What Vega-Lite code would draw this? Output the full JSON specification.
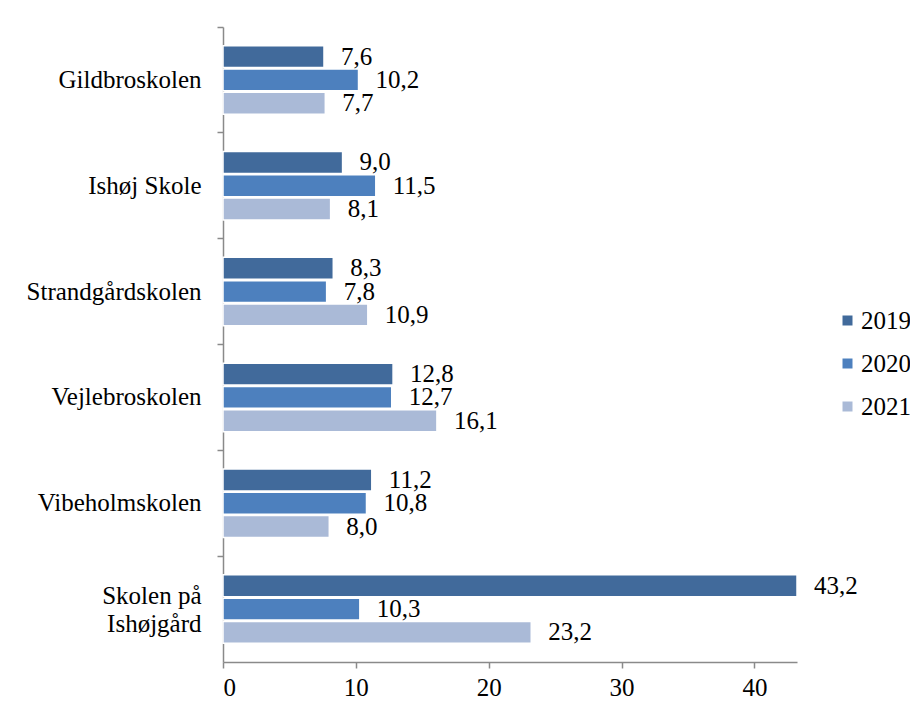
{
  "$schema": "https://vega.github.io/schema/vega-lite/v6.json",
  "width": 574,
  "height": 635,
  "autosize": {"type": "none"},
  "padding": {"left": 223, "top": 27, "right": 113, "bottom": 57},
  "background": "white",
  "config": {
    "view": {"stroke": null},
    "font": "Liberation Serif",
    "locale": {
      "number": {"decimal": ",", "thousands": ".", "grouping": [3], "currency": ["", " kr."]}
    }
  },
  "data": {
    "values": [
      {"skole": "Gildbroskolen", "year": "2019", "value": 7.6},
      {"skole": "Gildbroskolen", "year": "2020", "value": 10.2},
      {"skole": "Gildbroskolen", "year": "2021", "value": 7.7},
      {"skole": "Ishøj Skole", "year": "2019", "value": 9.0},
      {"skole": "Ishøj Skole", "year": "2020", "value": 11.5},
      {"skole": "Ishøj Skole", "year": "2021", "value": 8.1},
      {"skole": "Strandgårdskolen", "year": "2019", "value": 8.3},
      {"skole": "Strandgårdskolen", "year": "2020", "value": 7.8},
      {"skole": "Strandgårdskolen", "year": "2021", "value": 10.9},
      {"skole": "Vejlebroskolen", "year": "2019", "value": 12.8},
      {"skole": "Vejlebroskolen", "year": "2020", "value": 12.7},
      {"skole": "Vejlebroskolen", "year": "2021", "value": 16.1},
      {"skole": "Vibeholmskolen", "year": "2019", "value": 11.2},
      {"skole": "Vibeholmskolen", "year": "2020", "value": 10.8},
      {"skole": "Vibeholmskolen", "year": "2021", "value": 8.0},
      {"skole": "Skolen på Ishøjgård", "year": "2019", "value": 43.2},
      {"skole": "Skolen på Ishøjgård", "year": "2020", "value": 10.3},
      {"skole": "Skolen på Ishøjgård", "year": "2021", "value": 23.2}
    ]
  },
  "encoding": {
    "y": {
      "field": "skole",
      "type": "nominal",
      "sort": ["Gildbroskolen", "Ishøj Skole", "Strandgårdskolen", "Vejlebroskolen", "Vibeholmskolen", "Skolen på Ishøjgård"],
      "scale": {"paddingInner": 0, "paddingOuter": 0},
      "axis": {
        "title": null,
        "bandPosition": 0,
        "domainColor": "#8a8a8a",
        "domainWidth": 1.5,
        "tickColor": "#8a8a8a",
        "tickWidth": 1.5,
        "tickSize": 6,
        "labelFontSize": 25,
        "labelColor": "black",
        "labelPadding": 16,
        "labelLineHeight": 28,
        "labelOffset": {"expr": "datum.value == 'Skolen på Ishøjgård' ? -13 : 0"},
        "labelExpr": "datum.value == 'Skolen på Ishøjgård' ? ['Skolen på', 'Ishøjgård'] : datum.value"
      }
    },
    "yOffset": {
      "field": "year",
      "type": "nominal",
      "scale": {"paddingInner": 0.06, "paddingOuter": 0.8}
    },
    "x": {
      "field": "value",
      "type": "quantitative",
      "scale": {"domain": [0, 43.2], "nice": false},
      "axis": {
        "title": null,
        "values": [0, 10, 20, 30, 40],
        "grid": false,
        "domainColor": "#8a8a8a",
        "domainWidth": 1.5,
        "tickColor": "#8a8a8a",
        "tickWidth": 1.5,
        "tickSize": 6,
        "labelFontSize": 25,
        "labelColor": "black",
        "labelPadding": 7
      }
    }
  },
  "layer": [
    {
      "mark": {"type": "bar", "stroke": "white", "strokeWidth": 1.5},
      "encoding": {
        "color": {
          "field": "year",
          "type": "nominal",
          "scale": {"domain": ["2019", "2020", "2021"], "range": ["#416A9B", "#4D80BE", "#AABAD7"]},
          "legend": {
            "title": null,
            "orient": "none",
            "legendX": 612,
            "legendY": 281,
            "symbolType": "square",
            "symbolSize": 100,
            "symbolStrokeWidth": 0,
            "labelFontSize": 25,
            "labelColor": "black",
            "labelOffset": 1,
            "rowPadding": 17
          }
        }
      }
    },
    {
      "mark": {"type": "text", "align": "left", "baseline": "middle", "dx": 17, "fontSize": 25, "color": "black"},
      "encoding": {"text": {"field": "value", "type": "quantitative", "format": ".1f"}}
    }
  ]
}
